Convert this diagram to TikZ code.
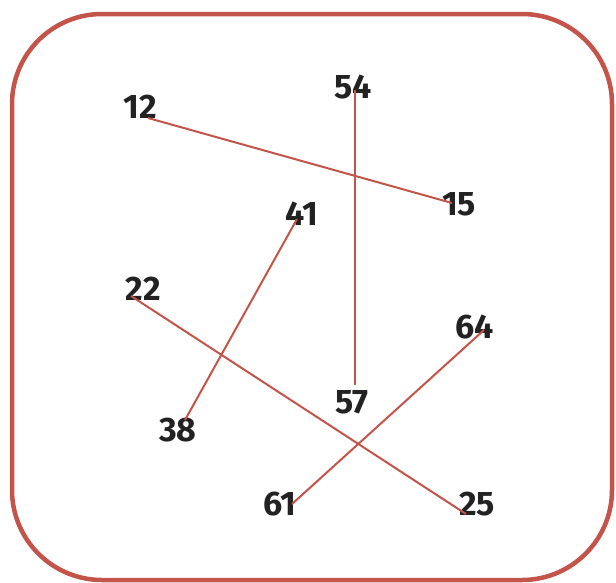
\documentclass[tikz,border=0pt]{standalone}
\usepackage{fontspec}
\setmainfont{Fira Sans}
\usepackage{xcolor}
\usetikzlibrary{positioning, calc}
\definecolor{edgered}{RGB}{196,84,74}
\definecolor{numgray}{RGB}{34,34,34}

\begin{document}
\begin{tikzpicture}[
  x=1pt, y=-1pt,
  num/.style={inner sep=0pt, font=\fontsize{34}{34}\selectfont\bfseries, text=numgray},
  link/.style={draw=edgered, line width=2pt},
  frame/.style={draw=edgered, line width=4.5pt, rounded corners=90pt},
]
\useasboundingbox (0,0) rectangle (616,582);

\draw[frame] (12,14) rectangle (612,580);

% numbers
\node[num] (n12) at (140,107) {12};
\node[num] (n54) at (353,87) {54};
\node[num] (n15) at (459,204) {15};
\node[num] (n41) at (302,214) {41};
\node[num] (n22) at (143,289) {22};
\node[num] (n64) at (475,327) {64};
\node[num] (n57) at (352,402) {57};
\node[num] (n38) at (178,430) {38};
\node[num] (n61) at (280,504) {61};
\node[num] (n25) at (477,504) {25};

% line ends
\coordinate (p12) at (148,118);
\coordinate (p15) at (452,203);
\coordinate (p54) at (355,90);
\coordinate (p57) at (355,385);
\coordinate (p41) at (297,219);
\coordinate (p38) at (185,420);
\coordinate (p22) at (131,296);
\coordinate (p25) at (466,514);
\coordinate (p64) at (484,330);
\coordinate (p61) at (292,504);

\draw[link] (p12) -- (p15);
\draw[link] (p54) -- (p57);
\draw[link] (p41) -- (p38);
\draw[link] (p22) -- (p25);
\draw[link] (p64) -- (p61);

\end{tikzpicture}
\end{document}
